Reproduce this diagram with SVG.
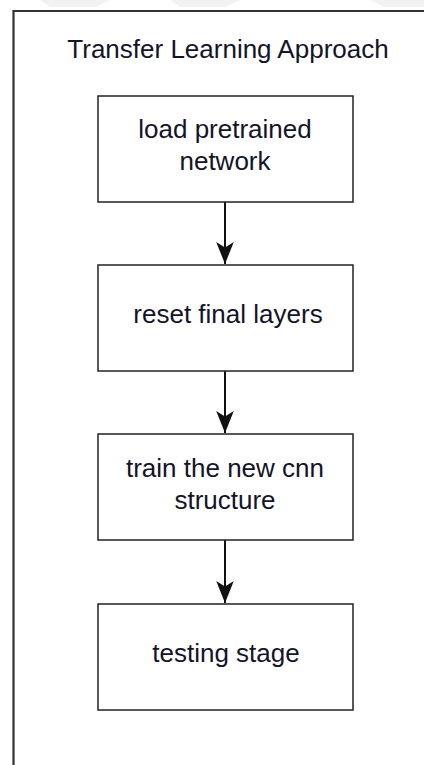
<svg xmlns="http://www.w3.org/2000/svg" width="424" height="765" viewBox="0 0 424 765">
<style>
.box{fill:#fff;stroke:#222;stroke-width:1.5}
.lbl{font-family:"Liberation Sans",Arial,sans-serif;font-size:26px;fill:#141428;text-anchor:middle}
.edge{stroke:#111;stroke-width:2;fill:none}
.wm{fill:#f2f2f2}
</style>
<defs>
<marker id="arr" markerUnits="userSpaceOnUse" markerWidth="22" markerHeight="18" refX="20" refY="8" orient="auto" viewBox="0 0 20 16">
<path d="M20,8 L0,0 L5,8 L0,16 Z" fill="#111"/>
</marker>
</defs>
<rect width="424" height="765" fill="#fff"/>
<g id="watermark">
<polygon class="wm" points="40,0 110,0 95,7 50,7"/>
<polygon class="wm" points="170,0 240,0 225,7 180,7"/>
<polygon class="wm" points="370,0 424,0 424,7 385,7"/>
</g>
<g id="frame">
<path d="M13.5,765 L13.5,11 L424,11" fill="none" stroke="#333" stroke-width="2.2"/>
<text class="lbl" x="228" y="58">Transfer Learning Approach</text>
</g>
<g id="connectors">
<line class="edge" x1="225" y1="202" x2="225" y2="264" marker-end="url(#arr)"/>
<line class="edge" x1="225" y1="371" x2="225" y2="433" marker-end="url(#arr)"/>
<line class="edge" x1="225" y1="540" x2="225" y2="603" marker-end="url(#arr)"/>
</g>
<g id="node1">
<rect class="box" x="98" y="96" width="255" height="106"/>
<text class="lbl" x="225" y="138">load pretrained</text>
<text class="lbl" x="225" y="170">network</text>
</g>
<g id="node2">
<rect class="box" x="98" y="265" width="255" height="106"/>
<text class="lbl" x="228" y="323">reset final layers</text>
</g>
<g id="node3">
<rect class="box" x="98" y="434" width="255" height="106"/>
<text class="lbl" x="225" y="477">train the new cnn</text>
<text class="lbl" x="225" y="509">structure</text>
</g>
<g id="node4">
<rect class="box" x="98" y="604" width="255" height="106"/>
<text class="lbl" x="226" y="662">testing stage</text>
</g>
</svg>
